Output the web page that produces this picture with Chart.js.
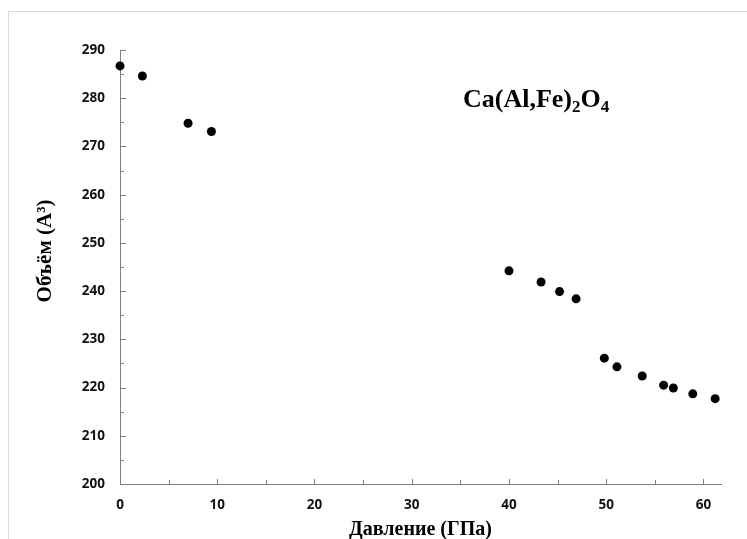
<!DOCTYPE html>
<html>
<head>
<meta charset="utf-8">
<script src="https://cdn.jsdelivr.net/npm/chart.js@4/dist/chart.umd.min.js"></script>
<style>
  html, body { margin: 0; padding: 0; background: #fff; }
  #wrap { position: relative; width: 747px; height: 539px; }
</style>
</head>
<body>
<div id="wrap"><canvas id="c" width="747" height="539"></canvas></div>
<script>
// Data
const pressure = [0, 2.3, 7.0, 9.4, 40.0, 43.3, 45.2, 46.9, 49.8, 51.1, 53.7, 55.9, 56.9, 58.9, 61.2];
const volume   = [286.7, 284.6, 274.8, 273.1, 244.2, 241.9, 239.9, 238.4, 226.1, 224.3, 222.4, 220.5, 219.9, 218.7, 217.7];
const xTitle = 'Давление (ГПа)';
const yTitle = 'Объём (A³)';
const formulaParts = [['Ca(Al,Fe)', false], ['2', true], ['O', false], ['4', true]];

const points = pressure.map((p, i) => ({ x: p, y: volume[i] }));
const axisColor = '#7f7f7f';

const frame = {
  id: 'frame',
  beforeDraw(chart) {
    const ctx = chart.ctx;
    ctx.save();
    ctx.strokeStyle = '#d9d9d9';
    ctx.lineWidth = 1;
    ctx.beginPath();
    ctx.moveTo(747, 11.5); ctx.lineTo(8.5, 11.5); ctx.lineTo(8.5, 539);
    ctx.stroke();
    ctx.restore();
  }
};

const innerTicks = {
  id: 'innerTicks',
  afterDatasetsDraw(chart) {
    const ctx = chart.ctx;
    const xs = chart.scales.x, ys = chart.scales.y;
    const a = chart.chartArea;
    ctx.save();
    ctx.strokeStyle = axisColor;
    ctx.lineWidth = 1;
    ctx.beginPath();
    xs.ticks.forEach(t => {
      const px = Math.round(xs.getPixelForValue(t.value)) + 0.5;
      const len = (t.value % 10 === 0) ? 5 : 4;
      ctx.moveTo(px, a.bottom); ctx.lineTo(px, a.bottom - len);
    });
    ys.ticks.forEach(t => {
      const py = Math.round(ys.getPixelForValue(t.value)) + 0.5;
      const len = (t.value % 10 === 0) ? 6 : 4;
      ctx.moveTo(a.left, py); ctx.lineTo(a.left + len, py);
    });
    ctx.stroke();
    ctx.restore();
  },
  afterDraw(chart) {
    const ctx = chart.ctx;
    // y axis title
    ctx.save();
    ctx.fillStyle = '#000';
    ctx.font = 'bold 21px "Liberation Serif"';
    ctx.textAlign = 'center';
    ctx.textBaseline = 'middle';
    ctx.translate(46, 251);
    ctx.rotate(-Math.PI / 2);
    ctx.fillText(yTitle, 0, 0);
    ctx.restore();
    // formula label
    ctx.save();
    ctx.fillStyle = '#000';
    ctx.textBaseline = 'alphabetic';
    let x = 463;
    const base = 107;
    formulaParts.forEach(([txt, sub]) => {
      ctx.font = sub ? 'bold 17px "Liberation Serif"' : 'bold 26px "Liberation Serif"';
      ctx.fillText(txt, x, sub ? base + 5 : base);
      x += ctx.measureText(txt).width;
    });
    ctx.restore();
  }
};

new Chart(document.getElementById('c'), {
  type: 'scatter',
  data: {
    datasets: [{
      data: points,
      backgroundColor: '#000',
      borderColor: '#000',
      borderWidth: 0,
      pointRadius: 4.5,
      pointHoverRadius: 4.5,
      clip: false
    }]
  },
  options: {
    responsive: false,
    animation: false,
    devicePixelRatio: 1,
    layout: { padding: { left: 0, top: 50, right: 26, bottom: 0 } },
    plugins: { legend: { display: false }, tooltip: { enabled: false } },
    scales: {
      x: {
        type: 'linear',
        min: 0, max: 61.8,
        afterFit(s) { s.height = 55; },
        grid: { display: false, drawTicks: false },
        border: { display: true, color: axisColor, width: 1 },
        ticks: {
          stepSize: 5,
          includeBounds: false,
          autoSkip: false,
          maxRotation: 0,
          padding: 13,
          color: '#111',
          font: { family: '"Open Sans"', size: 13.5, weight: 'bold' },
          callback: v => (v % 10 === 0 ? String(v) : '')
        },
        title: {
          display: true,
          text: xTitle,
          color: '#000',
          font: { family: '"Liberation Serif"', size: 20, weight: 'bold' },
          padding: { top: 0, bottom: -3 }
        }
      },
      y: {
        type: 'linear',
        min: 200, max: 290,
        afterFit(s) { s.width = 120; },
        grid: { display: false, drawTicks: false },
        border: { display: true, color: axisColor, width: 1 },
        ticks: {
          stepSize: 5,
          includeBounds: false,
          autoSkip: false,
          padding: 15,
          color: '#111',
          font: { family: '"Open Sans"', size: 13.5, weight: 'bold' },
          callback: v => (v % 10 === 0 ? String(v) : '')
        },
        title: { display: false }
      }
    }
  },
  plugins: [frame, innerTicks]
});
</script>
</body>
</html>
